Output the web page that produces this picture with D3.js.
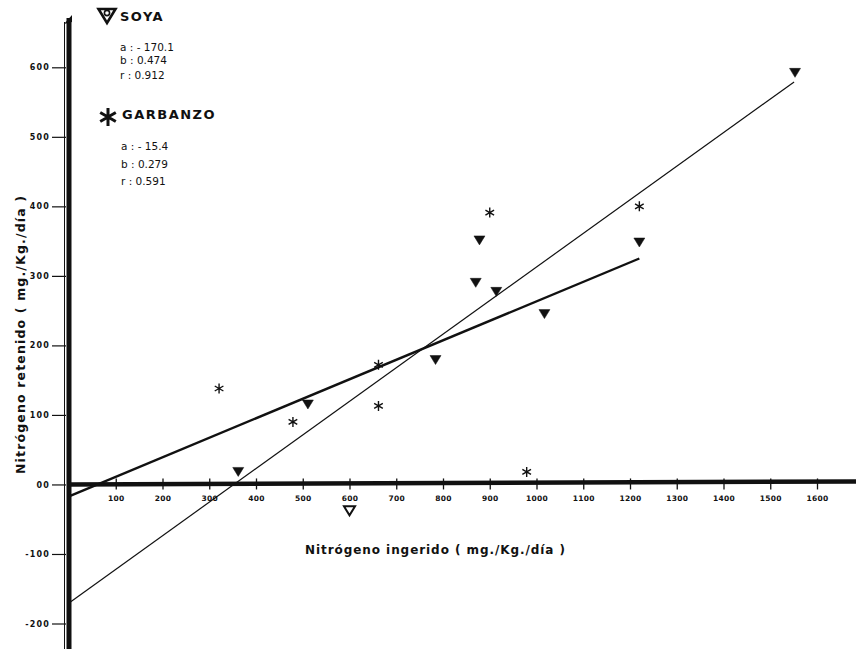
<!DOCTYPE html>
<html><head><meta charset="utf-8">
<script src="https://cdn.jsdelivr.net/npm/d3@7"></script>
<style>body{margin:0;background:#fff}svg{display:block}text{font-family:"DejaVu Sans",sans-serif;font-weight:bold;fill:#111}</style>
</head><body>
<svg id="c" width="856" height="649"></svg>
<script>
// Data
const soyaX = [362, 511, 600, 784, 870, 878, 914, 1017, 1220, 1553];
const soyaY = [18, 115, -38, 179, 290, 351, 277, 245, 348, 592];
const soyaOpen = [false, false, true, false, false, false, false, false, false, false];
const garbX = [321, 479, 662, 662, 900, 979, 1220];
const garbY = [138, 90, 172, 113, 391, 18, 400];
const soyaLineX = [3, 1551];
const soyaLineY = [-169, 579];
const garbLineX = [0, 1220];
const garbLineY = [-17, 325];
const xTicks = [100,200,300,400,500,600,700,800,900,1000,1100,1200,1300,1400,1500,1600];
const yTicks = [600,500,400,300,200,100,0,-100,-200];
const yTickLabels = ["600","500","400","300","200","100","00","-100","-200"];
const soyaStats = ["a : - 170.1","b : 0.474","r : 0.912"];
const garbStats = ["a : - 15.4","b : 0.279","r : 0.591"];

const svg = d3.select("#c");
const x = d3.scaleLinear().domain([0,1600]).range([69,817]);
const y = d3.scaleLinear().domain([-200,600]).range([623.5,67.3]);

// y tick marks & labels
const yAxis = d3.axisLeft(y).tickValues(yTicks).tickSize(14).tickPadding(2)
  .tickFormat((d,i)=>yTickLabels[i]);
const gy = svg.append("g").attr("transform","translate(66,0)").call(yAxis);
gy.select(".domain").remove();
gy.selectAll("line").attr("stroke","#111").attr("stroke-width",1.2);
gy.selectAll("text").style("font-size","8px").style("letter-spacing","1.2px")
  .style("font-family","DejaVu Sans").style("font-weight","bold").attr("fill","#111");

// thick y axis
svg.append("line").attr("x1",69).attr("x2",69).attr("y1",18).attr("y2",649)
  .attr("stroke","#111").attr("stroke-width",5);
svg.append("line").attr("x1",64.5).attr("x2",64.5).attr("y1",22).attr("y2",649)
  .attr("stroke","#111").attr("stroke-width",1);
svg.append("path").attr("d","M64,24 L72,15 L72,22 Z").attr("fill","#111");

// thick x axis
svg.append("line").attr("x1",x(0)).attr("x2",856).attr("y1",y(0)).attr("y2",y(0)-3)
  .attr("stroke","#111").attr("stroke-width",4.5);
const xAxis = d3.axisBottom(x).tickValues(xTicks).tickSize(5).tickPadding(6).tickFormat(d3.format("d"));
const gx = svg.append("g").attr("transform",`translate(0,${y(0)})`).call(xAxis);
gx.select(".domain").remove();
gx.selectAll("line").attr("y1",-6).attr("y2",5).attr("stroke","#111").attr("stroke-width",1.3);
gx.selectAll("text").style("font-size","7.5px").style("letter-spacing","0.3px")
  .style("font-family","DejaVu Sans").style("font-weight","bold").attr("fill","#111");

// regression lines
svg.append("line").attr("x1",x(soyaLineX[0])).attr("y1",y(soyaLineY[0]))
  .attr("x2",x(soyaLineX[1])).attr("y2",y(soyaLineY[1])).attr("stroke","#111").attr("stroke-width",1.2);
svg.append("line").attr("x1",x(garbLineX[0])).attr("y1",y(garbLineY[0]))
  .attr("x2",x(garbLineX[1])).attr("y2",y(garbLineY[1])).attr("stroke","#111").attr("stroke-width",2.4);

// soya triangles
const tri = (w,h)=>`M${-w/2},${-h/2} L${w/2},${-h/2} L0,${h/2} Z`;
svg.append("g").selectAll("path").data(soyaX).join("path")
  .attr("transform",(d,i)=>`translate(${x(d)},${y(soyaY[i])})`)
  .attr("d",tri(11,9))
  .attr("fill",(d,i)=>soyaOpen[i]?"#fff":"#111")
  .attr("stroke","#111").attr("stroke-width",(d,i)=>soyaOpen[i]?2:0.5);

// garbanzo asterisks
const star = r => {let s="";for(let k=0;k<3;k++){const a=Math.PI/2+k*Math.PI/3;s+=`M${-r*Math.cos(a)},${-r*Math.sin(a)} L${r*Math.cos(a)},${r*Math.sin(a)} `;}return s;};
svg.append("g").selectAll("path").data(garbX).join("path")
  .attr("transform",(d,i)=>`translate(${x(d)},${y(garbY[i])})`)
  .attr("d",star(5)).attr("stroke","#111").attr("stroke-width",1.4).attr("fill","none");

// legend
svg.append("path").attr("transform","translate(107,16)").attr("d",tri(17,14))
  .attr("fill","#fff").attr("stroke","#111").attr("stroke-width",2.6);
svg.append("circle").attr("cx",107).attr("cy",13).attr("r",2.6).attr("fill","none").attr("stroke","#111").attr("stroke-width",1.6);
svg.append("text").attr("x",120).attr("y",21).text("SOYA").style("font-size","13px").style("letter-spacing","1.5px");
svg.append("g").selectAll("text").data(soyaStats).join("text")
  .attr("x",120).attr("y",(d,i)=>[51,64,79][i]).text(d=>d)
  .style("font-size","10.5px").style("font-weight","normal");
svg.append("path").attr("transform","translate(108,117)").attr("d",star(9))
  .attr("stroke","#111").attr("stroke-width",3).attr("fill","none");
svg.append("text").attr("x",122).attr("y",119).text("GARBANZO").style("font-size","13px").style("letter-spacing","1.5px");
svg.append("g").selectAll("text").data(garbStats).join("text")
  .attr("x",121).attr("y",(d,i)=>[150,168,185][i]).text(d=>d)
  .style("font-size","10.5px").style("font-weight","normal");

// axis titles
svg.append("text").attr("transform","translate(25,335) rotate(-90)").attr("text-anchor","middle")
  .attr("textLength",278).attr("lengthAdjust","spacing")
  .text("Nitrógeno  retenido  ( mg./Kg./día )").style("font-size","12.5px");
svg.append("text").attr("x",305).attr("y",554)
  .attr("textLength",260).attr("lengthAdjust","spacing")
  .text("Nitrógeno  ingerido  ( mg./Kg./día )").style("font-size","12px");
</script>
</body></html>
